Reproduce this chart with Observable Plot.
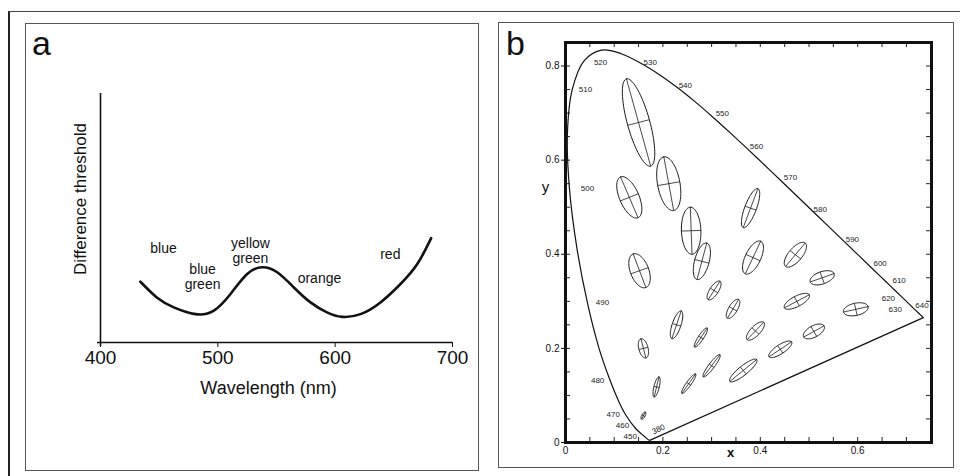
<!DOCTYPE html>
<html><head><meta charset="utf-8">
<script src="https://cdn.jsdelivr.net/npm/d3@7"></script>
<script src="https://cdn.jsdelivr.net/npm/@observablehq/plot@0.6"></script>
<style>
body{margin:0;background:#fff;font-family:"Liberation Sans",Arial,sans-serif;}
#wrap{position:relative;width:960px;height:476px;overflow:hidden;background:#fff}
.pl{position:absolute;top:0}
.box{position:absolute;box-sizing:border-box;pointer-events:none}
.tag{position:absolute;font-size:34px;line-height:34px;color:#111}
</style></head>
<body><div id="wrap"></div>
<script>
// ---------- Panel a data ----------
const wavelengthA = [434, 448, 462.5, 481, 496.6, 510.8, 525, 537.8, 550.6, 564.8, 579, 593, 606, 621.6, 638.6, 655.7, 670, 681.8];
const thresholdA  = [0.244, 0.181, 0.141, 0.114, 0.128, 0.195, 0.275, 0.302, 0.282, 0.221, 0.161, 0.121, 0.103, 0.114, 0.161, 0.235, 0.315, 0.419];
const hueNames  = ["blue", "blue\ngreen", "yellow\ngreen", "orange", "red"];
const hueNameWl = [453.7, 487, 527.8, 586.6, 647];
const hueNameY  = [0.378, 0.265, 0.369, 0.257, 0.357];
const wavelengthTicks = [400, 500, 600, 700];
const xTitleA = "Wavelength (nm)";
const yTitleA = "Difference threshold";

// ---------- Panel b data ----------
const locusNm = [380,390,400,410,420,430,440,450,460,470,475,480,485,490,495,500,505,510,515,520,525,530,535,540,545,550,555,560,565,570,575,580,585,590,595,600,605,610,620,630,640,650,660,680,700];
const locusX = [0.1741,0.1738,0.1733,0.1726,0.1714,0.1689,0.1644,0.1566,0.1440,0.1241,0.1096,0.0913,0.0687,0.0454,0.0235,0.0082,0.0039,0.0139,0.0389,0.0743,0.1142,0.1547,0.1929,0.2296,0.2658,0.3016,0.3373,0.3731,0.4087,0.4441,0.4788,0.5125,0.5448,0.5752,0.6029,0.6270,0.6482,0.6658,0.6915,0.7079,0.7190,0.7260,0.7300,0.7334,0.7347];
const locusY = [0.0050,0.0049,0.0048,0.0048,0.0051,0.0069,0.0109,0.0177,0.0297,0.0578,0.0868,0.1327,0.2007,0.2950,0.4127,0.5384,0.6548,0.7502,0.8120,0.8338,0.8262,0.8059,0.7816,0.7543,0.7243,0.6923,0.6589,0.6245,0.5896,0.5547,0.5202,0.4866,0.4544,0.4242,0.3965,0.3725,0.3514,0.3340,0.3083,0.2920,0.2809,0.2740,0.2700,0.2666,0.2653];

const nmLabels = ["450","460","470","480","490","500","510","520","530","540","550","560","570","580","590","600","610","620","630","640"];
const nmLabelX = [0.133,0.117,0.098,0.066,0.076,0.045,0.041,0.072,0.174,0.246,0.322,0.392,0.462,0.523,0.589,0.646,0.685,0.663,0.677,0.732];
const nmLabelY = [0.013,0.036,0.060,0.132,0.297,0.540,0.750,0.807,0.807,0.759,0.699,0.629,0.563,0.495,0.431,0.380,0.344,0.306,0.283,0.291];
const purpleLabel = ["380"], purpleLabelX = [0.191], purpleLabelY = [0.028];

// MacAdam ellipses: centre, semi-axes (x 10^-3), orientation (deg); drawn 10x enlarged
const ellX = [0.160,0.187,0.253,0.150,0.131,0.212,0.258,0.152,0.280,0.380,0.160,0.228,0.305,0.385,0.472,0.527,0.475,0.510,0.596,0.344,0.390,0.441,0.278,0.300,0.365];
const ellY = [0.057,0.118,0.125,0.680,0.521,0.550,0.450,0.365,0.385,0.498,0.200,0.250,0.323,0.393,0.399,0.350,0.300,0.236,0.283,0.284,0.237,0.198,0.223,0.163,0.153];
const ellA = [0.85,2.2,2.5,9.6,4.7,5.8,5.0,3.8,4.0,4.4,2.1,3.1,2.3,3.8,3.2,2.6,2.9,2.4,2.6,2.3,2.5,2.8,2.4,2.9,3.6];
const ellB = [0.35,0.55,0.50,2.3,2.0,2.3,2.0,1.9,1.5,1.2,0.95,0.9,0.9,1.6,1.4,1.3,1.1,1.2,1.3,0.9,1.0,0.95,0.55,0.6,0.95];
const ellTheta = [62.5,77,55.5,105,112.5,100,92,110,75.5,70,104,72,58,65.5,51,20,28.5,29.5,13,60,47,34.5,57.5,54,40];
const enlargement = 10;

const chromaTicksX = [0, 0.2, 0.4, 0.6];
const chromaTicksY = [0, 0.2, 0.4, 0.6, 0.8];
const minorTicksX = [0.05,0.1,0.15,0.2,0.25,0.3,0.35,0.4,0.45,0.5,0.55,0.6,0.65,0.7];
const minorTicksY = [0.05,0.1,0.15,0.2,0.25,0.3,0.35,0.4,0.45,0.5,0.55,0.6,0.65,0.7,0.75,0.8];

const FONT = '"Liberation Sans", Arial, sans-serif';
const wrap = document.getElementById("wrap");

function box(l,t,w,h,css){const d=document.createElement("div");d.className="box";d.style.cssText=`left:${l}px;top:${t}px;width:${w}px;height:${h}px;${css}`;return d;}

// ---------- Panel a ----------
const curveA = wavelengthA.map((w,i)=>({w, t: thresholdA[i]}));
const hueA = hueNames.map((n,i)=>({n, w: hueNameWl[i], t: hueNameY[i]}));
const plotA = Plot.plot({
  width: 480, height: 476,
  marginLeft: 100, marginRight: 28, marginTop: 93, marginBottom: 134,
  x: {domain: [400, 700]},
  y: {domain: [0, 1]},
  style: {background: "transparent", fontFamily: FONT, color: "#111"},
  marks: [
    Plot.ruleY([0], {stroke: "#111", strokeWidth: 1.6, insetLeft: -3}),
    Plot.ruleX([400], {stroke: "#111", strokeWidth: 1.6, insetBottom: -4}),
    Plot.line(curveA, {x: "w", y: "t", curve: "natural", stroke: "#111", strokeWidth: 2.6}),
    Plot.text(hueA, {x: "w", y: "t", text: "n", fontSize: 14, lineHeight: 1.1, fill: "#111"}),
    Plot.axisX({ticks: wavelengthTicks, tickSize: 5, tickPadding: 3, fontSize: 19, label: null, tickFormat: d => String(d)}),
    Plot.axisY({ticks: [], label: null}),
    Plot.text([xTitleA], {frameAnchor: "bottom", textAnchor: "middle", lineAnchor: "middle", dx: -8, dy: 46, fontSize: 18, fill: "#111"}),
    Plot.text([yTitleA], {frameAnchor: "left", rotate: -90, textAnchor: "middle", lineAnchor: "middle", dx: -20, dy: -19, fontSize: 17, fill: "#111"})
  ]
});
plotA.classList.add("pl"); plotA.style.left = "0px";
wrap.appendChild(plotA);

// ---------- Panel b ----------
const locus = locusNm.map((nm,i)=>({nm, x: locusX[i], y: locusY[i]}));
const last = locus.length - 1;
const purple = [{x1: locusX[0], y1: locusY[0], x2: locusX[last], y2: locusY[last]}];
const ellPts = [], ellAxes = [];
ellX.forEach((cx,i)=>{
  const cy = ellY[i], a = ellA[i]*1e-3*enlargement, b = ellB[i]*1e-3*enlargement, th = ellTheta[i]*Math.PI/180;
  const c = Math.cos(th), s = Math.sin(th);
  for (let k=0;k<=72;k++){
    const t = k/72*2*Math.PI;
    ellPts.push({id:i, x: cx + a*Math.cos(t)*c - b*Math.sin(t)*s, y: cy + a*Math.cos(t)*s + b*Math.sin(t)*c});
  }
  ellAxes.push({x1: cx - a*c, y1: cy - a*s, x2: cx + a*c, y2: cy + a*s});
  ellAxes.push({x1: cx + b*s, y1: cy - b*c, x2: cx - b*s, y2: cy + b*c});
});
const nmLab = nmLabels.map((t,i)=>({t, x: nmLabelX[i], y: nmLabelY[i]}));
const purpleLab = purpleLabel.map((t,i)=>({t, x: purpleLabelX[i], y: purpleLabelY[i]}));
const fmt = d => d === 0 ? "0" : d.toFixed(1);

const plotB = Plot.plot({
  width: 480, height: 476,
  marginLeft: 85, marginRight: 29, marginTop: 42, marginBottom: 34,
  x: {domain: [0, 0.7515]},
  y: {domain: [0, 0.85]},
  style: {background: "transparent", fontFamily: FONT, color: "#111"},
  marks: [
    Plot.ruleX(minorTicksX, {insetBottom: 395, stroke: "#222", strokeWidth: 1}),
    Plot.ruleX(minorTicksX, {insetTop: 395, stroke: "#222", strokeWidth: 1}),
    Plot.ruleY(minorTicksY, {insetRight: 361, stroke: "#222", strokeWidth: 1}),
    Plot.ruleY(minorTicksY, {insetLeft: 361, stroke: "#222", strokeWidth: 1}),
    Plot.line(locus, {x: "x", y: "y", curve: "catmull-rom", stroke: "#111", strokeWidth: 1.2}),
    Plot.link(purple, {x1: "x1", y1: "y1", x2: "x2", y2: "y2", stroke: "#111", strokeWidth: 1.2}),
    Plot.line(ellPts, {x: "x", y: "y", z: "id", stroke: "#1a1a1a", strokeWidth: 1}),
    Plot.link(ellAxes, {x1: "x1", y1: "y1", x2: "x2", y2: "y2", stroke: "#1a1a1a", strokeWidth: 0.8}),
    Plot.text(nmLab, {x: "x", y: "y", text: "t", fontSize: 8, fill: "#222"}),
    Plot.text(purpleLab, {x: "x", y: "y", text: "t", fontSize: 8, fill: "#222", rotate: -25}),
    Plot.frame({stroke: "#111", strokeWidth: 3}),
    Plot.axisX({ticks: chromaTicksX, tickSize: 0, tickPadding: 4, fontSize: 10, tickFormat: fmt, label: null}),
    Plot.axisY({ticks: chromaTicksY, tickSize: 4, tickPadding: 2, fontSize: 10, tickFormat: fmt, label: null}),
    Plot.text(["x"], {frameAnchor: "bottom", textAnchor: "middle", lineAnchor: "middle", dx: -18, dy: 10, fontSize: 13, fontWeight: "bold", fill: "#111"}),
    Plot.text(["y"], {frameAnchor: "left", textAnchor: "middle", lineAnchor: "middle", dx: -20, dy: -55, fontSize: 15, fill: "#111"})
  ]
});
plotB.classList.add("pl"); plotB.style.left = "480px";
wrap.appendChild(plotB);

// panel frames and letters
wrap.appendChild(box(8, 11, 960, 480, "border-left:2px solid #222;border-top:1px solid #444;"));
wrap.appendChild(box(25, 23, 454, 448, "border:1px solid #555;"));
wrap.appendChild(box(498, 22, 456, 446, "border:1px solid #555;"));
const ta = document.createElement("div"); ta.className="tag"; ta.textContent="a"; ta.style.left="32px"; ta.style.top="26px"; wrap.appendChild(ta);
const tb = document.createElement("div"); tb.className="tag"; tb.textContent="b"; tb.style.left="506px"; tb.style.top="26px"; wrap.appendChild(tb);
</script>
</body></html>
